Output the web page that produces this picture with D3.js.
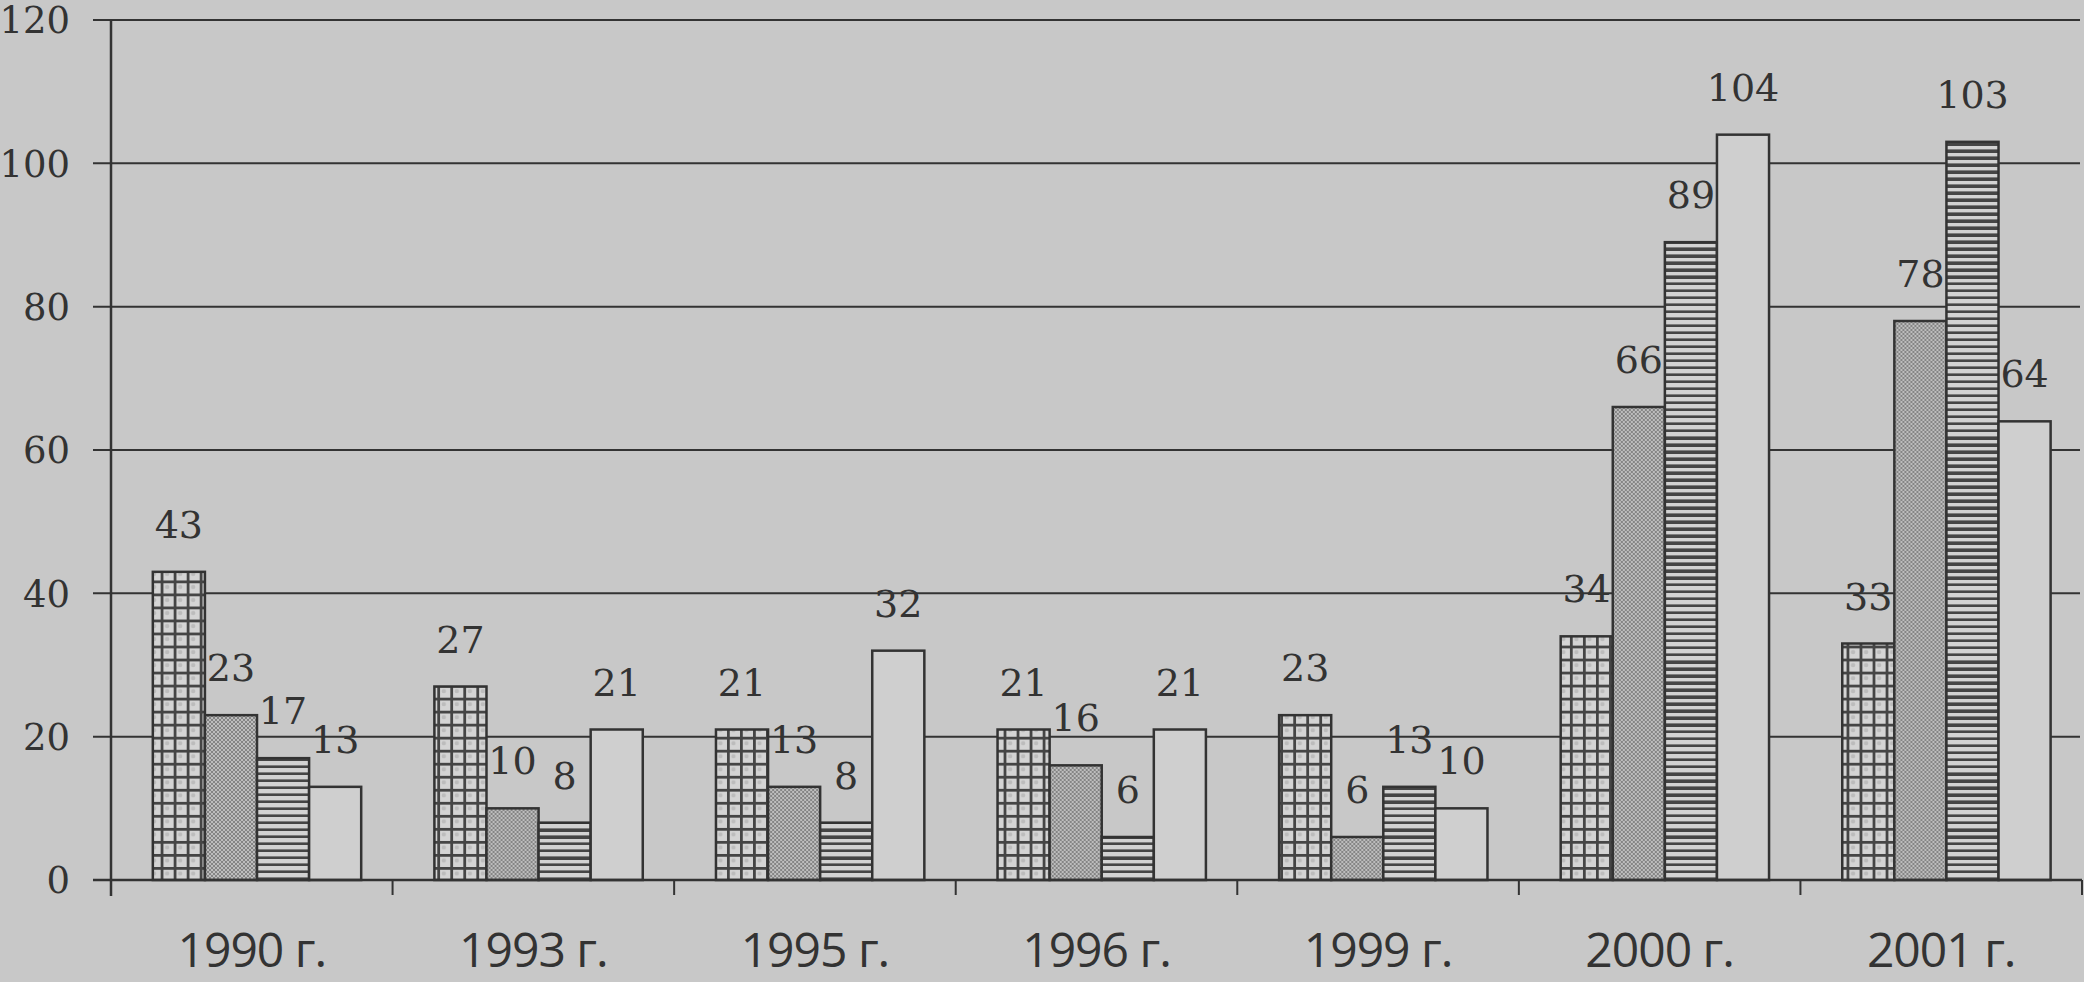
<!DOCTYPE html>
<html>
<head>
<meta charset="utf-8">
<script src="https://cdn.jsdelivr.net/npm/d3@7"></script>
<style>
  html, body { margin: 0; padding: 0; background: #c8c8c8; }
  svg { display: block; }
</style>
</head>
<body>
<svg id="chart" width="2084" height="982"></svg>
<script>
const categories = ["1990 г.", "1993 г.", "1995 г.", "1996 г.", "1999 г.", "2000 г.", "2001 г."];
const series1 = [43, 27, 21, 21, 23, 34, 33];
const series2 = [23, 10, 13, 16, 6, 66, 78];
const series3 = [17, 8, 8, 6, 13, 89, 103];
const series4 = [13, 21, 32, 21, 10, 104, 64];
const yTicks = [0, 20, 40, 60, 80, 100, 120];
const seriesKeys = ["s1", "s2", "s3", "s4"];

const W = 2084, H = 982;
const svg = d3.select("#chart");
const ink = "#333333";

svg.append("rect").attr("width", W).attr("height", H).attr("fill", "#c8c8c8");

const x = d3.scaleBand().domain(categories).range([111, 2082]).padding(0);
const y = d3.scaleLinear().domain([0, 120]).range([880, 20]);
const inner = d3.scaleBand().domain(seriesKeys)
  .range([x.bandwidth() * 0.145, x.bandwidth() * 0.885]).padding(0);

const rows = categories.map((c, i) => ({
  cat: c,
  vals: [series1[i], series2[i], series3[i], series4[i]]
}));

const defs = svg.append("defs");

// Series 2: fine cross-hatch
const p2 = defs.append("pattern").attr("id", "p2").attr("patternUnits", "userSpaceOnUse")
  .attr("width", 4).attr("height", 4);
p2.append("rect").attr("width", 4).attr("height", 4).attr("fill", "#bdbdbd");
p2.append("path").attr("d", "M0,0L4,4M4,0L0,4").attr("stroke", "#858585").attr("stroke-width", 1);

// Series 3: horizontal lines
const p3 = defs.append("pattern").attr("id", "p3").attr("patternUnits", "userSpaceOnUse")
  .attr("width", 10).attr("height", 7).attr("y", y(0));
p3.append("rect").attr("width", 10).attr("height", 7).attr("fill", "#d2d2d2");
p3.append("rect").attr("y", 4.4).attr("width", 10).attr("height", 2.6).attr("fill", "#454545");

// Series 1: square grid (one pattern per category so lines align with bar edges)
const bw = inner.bandwidth();
const cell = bw / 4;
const shift = 1;
rows.forEach((r, i) => {
  const bx = x(r.cat) + inner("s1") + shift;
  const g = defs.append("pattern").attr("id", "p1-" + i).attr("patternUnits", "userSpaceOnUse")
    .attr("x", bx).attr("y", y(0)).attr("width", cell).attr("height", cell);
  g.append("rect").attr("width", cell).attr("height", cell).attr("fill", "#d4d4d4");
  g.append("circle").attr("cx", cell / 2).attr("cy", cell / 2).attr("r", 2.2).attr("fill", "#bcbcbc");
  g.append("rect").attr("x", 0).attr("y", 0).attr("width", 2.8).attr("height", cell).attr("fill", "#454545");
  g.append("rect").attr("x", 0).attr("y", 0).attr("width", cell).attr("height", 2.8).attr("fill", "#454545");
});

// Gridlines
svg.append("g").selectAll("line").data(yTicks).join("line")
  .attr("x1", 93).attr("x2", 2080)
  .attr("y1", d => y(d)).attr("y2", d => y(d))
  .attr("stroke", ink).attr("stroke-width", 2);

// Y tick labels
svg.append("g").selectAll("text").data(yTicks).join("text")
  .attr("x", 70).attr("y", d => y(d)).attr("dy", "0.36em")
  .attr("text-anchor", "end")
  .attr("font-family", "DejaVu Serif").attr("font-size", 37)
  .attr("fill", ink).text(d => d);

// Bars
const fills = (i, k) => k === 0 ? `url(#p1-${i})` : k === 1 ? "url(#p2)" : k === 2 ? "url(#p3)" : "#cfcfcf";
const grp = svg.append("g").selectAll("g").data(rows).join("g")
  .attr("transform", d => `translate(${x(d.cat) + shift},0)`);
grp.each(function (r, i) {
  const g = d3.select(this);
  const items = r.vals.map((v, k) => ({ v, k, key: seriesKeys[k] }));
  g.selectAll("rect").data(items).join("rect")
    .attr("x", d => inner(d.key))
    .attr("y", d => y(d.v))
    .attr("width", bw)
    .attr("height", d => y(0) - y(d.v))
    .attr("fill", d => fills(i, d.k))
    .attr("stroke", ink).attr("stroke-width", 2.5);
  g.selectAll("text").data(items).join("text")
    .attr("x", d => inner(d.key) + bw / 2)
    .attr("y", d => y(d.v) - 34)
    .attr("text-anchor", "middle")
    .attr("font-family", "DejaVu Serif").attr("font-size", 38)
    .attr("fill", ink).text(d => d.v);
});

// Axes lines
svg.append("line").attr("x1", 111).attr("x2", 111).attr("y1", y(120)).attr("y2", 896)
  .attr("stroke", ink).attr("stroke-width", 2.5);
svg.append("line").attr("x1", 93).attr("x2", 2082).attr("y1", y(0)).attr("y2", y(0))
  .attr("stroke", ink).attr("stroke-width", 2.5);

// X ticks at category boundaries
const bounds = categories.map(c => x(c) + x.bandwidth());
svg.append("g").selectAll("line").data(bounds).join("line")
  .attr("x1", d => d).attr("x2", d => d)
  .attr("y1", y(0)).attr("y2", 895)
  .attr("stroke", ink).attr("stroke-width", 2);

// X labels
svg.append("g").selectAll("text").data(categories).join("text")
  .attr("x", d => x(d) + x.bandwidth() / 2)
  .attr("y", 967)
  .attr("text-anchor", "middle")
  .attr("font-family", "Open Sans").attr("font-size", 48)
  .attr("letter-spacing", -1)
  .attr("fill", ink).text(d => d);
</script>
</body>
</html>
